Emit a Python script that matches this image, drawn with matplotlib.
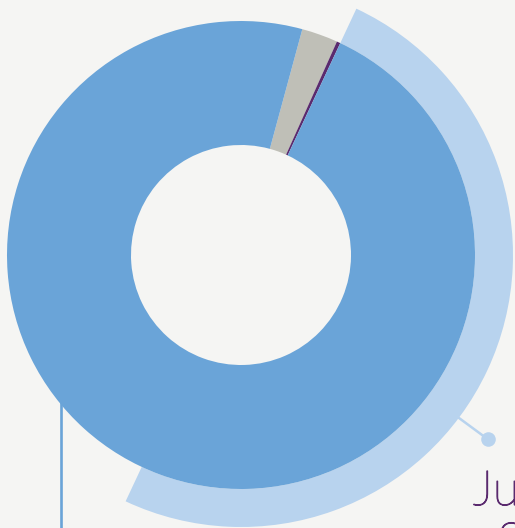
"""Donut chart with a highlighted half-ring and a callout."""
import matplotlib.pyplot as plt
import matplotlib.patheffects as pe

# slice shares (percent), clockwise from the grey slice
labels = ["Other", "Minor", "Highlighted", "Rest"]
values = [2.5, 0.25, 50.0, 47.25]
colors = ["#bfbfb7", "#5a2a6e", "#6aa4d8", "#6aa4d8"]
ring_colors = ["none", "none", "#b8d3ee", "none"]

callout_line1 = "June"
callout_line2 = "2017"

BG = "#f5f5f3"


def main() -> None:
    fig = plt.figure(figsize=(5.15, 5.28), dpi=100, facecolor=BG)
    ax = fig.add_axes([0, 0, 1, 1])
    ax.set_facecolor(BG)

    cx, cy = 241, 273

    # vertical leader on the left, sits under the donut
    ax.plot([60.5, 60.5], [0, 160], color="#6aa4d8", lw=1.9, zorder=0,
            solid_capstyle="butt")

    # outer highlight ring
    ax.pie(values, colors=ring_colors, startangle=74.8, counterclock=False,
           radius=272, center=(cx, cy), frame=True,
           wedgeprops=dict(width=38, linewidth=0))

    # main donut: the two blue slices share a colour, so draw them as one
    # wedge to avoid an anti-aliasing seam
    donut_vals = values[:2] + [values[2] + values[3]]
    donut_cols = colors[:3]
    ax.pie(donut_vals, colors=donut_cols, startangle=74.8, counterclock=False,
           radius=234, center=(cx, cy), frame=True,
           wedgeprops=dict(width=124, linewidth=0))

    ax.set_xlim(0, 515)
    ax.set_ylim(0, 528)
    ax.axis("off")

    # callout line with dot
    ax.plot([459, 487.5], [110, 89], color="#b8d3ee", lw=1.8, zorder=3)
    ax.scatter([487.5], [89], s=110, color="#b8d3ee", zorder=4, linewidths=0)

    thicken = [pe.withStroke(linewidth=0.9, foreground="#5a2a6e")]
    ax.text(473, 23, callout_line1, color="#5a2a6e", fontsize=35,
            family="Lato", fontweight="light", va="baseline", ha="left",
            path_effects=thicken)
    ax.text(497, -29, callout_line2, color="#5a2a6e", fontsize=35,
            family="Lato", fontweight="light", va="baseline", ha="left",
            clip_on=False, path_effects=thicken)

    fig.savefig("out.png", dpi=100, facecolor=BG)


if __name__ == "__main__":
    main()
